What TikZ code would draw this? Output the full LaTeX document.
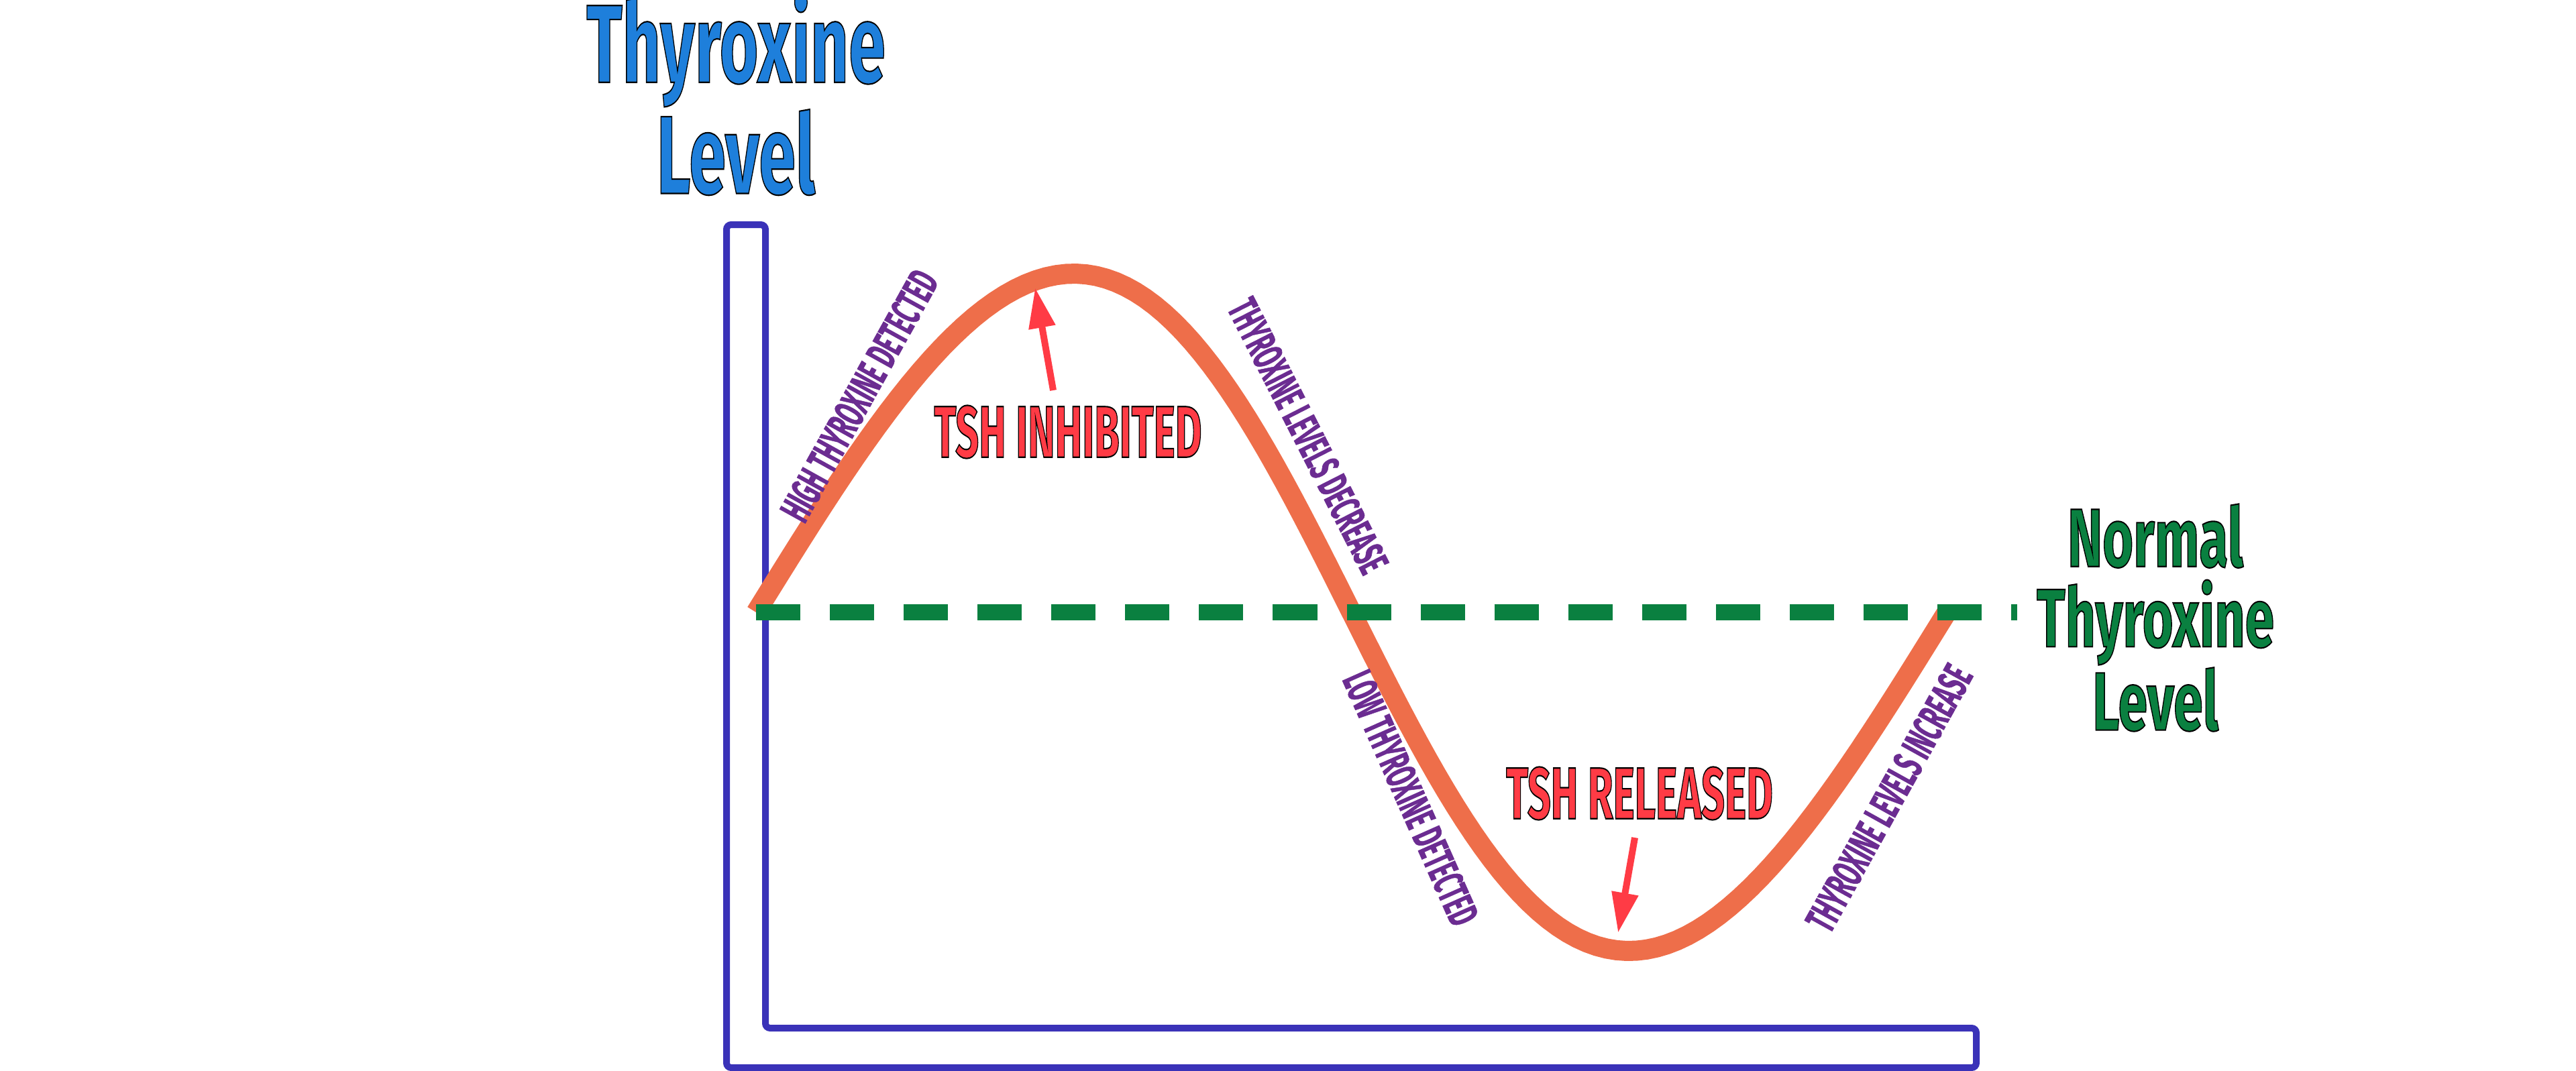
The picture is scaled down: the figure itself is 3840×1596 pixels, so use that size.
\documentclass[tikz,border=0pt]{standalone}
\usepackage{fontspec}
\setmainfont{Fira Sans}
\newfontfamily\notefont[FakeBold=1.2]{Fira Sans Bold}
\usetikzlibrary{arrows.meta}
\definecolor{axisblue}{HTML}{3A32B8}
\definecolor{titleblue}{HTML}{1E7FDB}
\definecolor{normgreen}{HTML}{0A8040}
\definecolor{curveorange}{HTML}{EE6E4A}
\definecolor{tshred}{HTML}{FF3B45}
\definecolor{notepurple}{HTML}{6B2C91}
% outlined, condensed text
\newcommand\outl[2]{{\color{#1}\special{pdf:literal direct 0 0 0 RG 0.6 w 2 Tr}#2\special{pdf:literal direct 0 Tr}}}
\newcommand\cond[2]{\scalebox{#1}[1]{#2}}
\tikzset{
	title/.style={font=\bfseries\fontsize{47}{41}\selectfont, align=center, inner sep=0pt},
	note/.style={font=\notefont\fontsize{18}{18}\selectfont, text=notepurple, inner sep=0pt},
	tsh/.style={font=\bfseries\fontsize{31}{31}\selectfont, inner sep=0pt},
	tsharrow/.style={tshred, line width=0.1cm, -{Triangle[length=0.6cm,width=0.38cm]}}
}
\begin{document}
\begin{tikzpicture}[x=0.01cm,y=-0.01cm]
	\useasboundingbox (0,0) rectangle (3840,1596);
	
	\draw[axisblue][line width=0.1cm, rounded corners=2pt](1083,335)--(1141,335)--(1141,1533)--(2946,1533)--(2946,1592)--(1083,1592)--cycle;
	
	\draw[curveorange][line width=0.3cm] plot[domain=0:360, samples=120] ({1127+4.9306*\x+30*sin(\x)},{913-505*sin(\x)});
	\draw[normgreen][line width=0.24cm, dash pattern=on 0.66cm off 0.44cm](1127,913)--(3007,913);
	
	\node[title] (ylab) at (1097,140){\cond{0.6}{\outl{titleblue}{Thyroxine}}\\\cond{0.6}{\outl{titleblue}{Level}}};
	\node[title, font=\bfseries\fontsize{35}{34}\selectfont] (normal) at (3213,921){\cond{0.64}{\outl{normgreen}{Normal}}\\\cond{0.64}{\outl{normgreen}{Thyroxine}}\\\cond{0.64}{\outl{normgreen}{Level}}};
	
	\node[tsh] (inh) at (1592,644){\cond{0.56}{\outl{tshred}{TSH INHIBITED}}};
	\node[tsh] (rel) at (2444,1183){\cond{0.56}{\outl{tshred}{TSH RELEASED}}};
	\coordinate (peak) at (1543,429);
	\coordinate (trough) at (2412,1391);
	\draw[tsharrow](1570,582)--(peak);
	\draw[tsharrow](2437,1249)--(trough);
	
	\node[note, rotate=61] (high) at (1281,590){\cond{0.53}{HIGH THYROXINE DETECTED}};
	\node[note, rotate=-63] (dec) at (1950,650){\cond{0.53}{THYROXINE LEVELS DECREASE}};
	\node[note, rotate=-66] (low) at (2103,1190){\cond{0.53}{LOW THYROXINE DETECTED}};
	\node[note, rotate=61] (inc) at (2816,1190){\cond{0.53}{THYROXINE LEVELS INCREASE}};
\end{tikzpicture}
\end{document}
